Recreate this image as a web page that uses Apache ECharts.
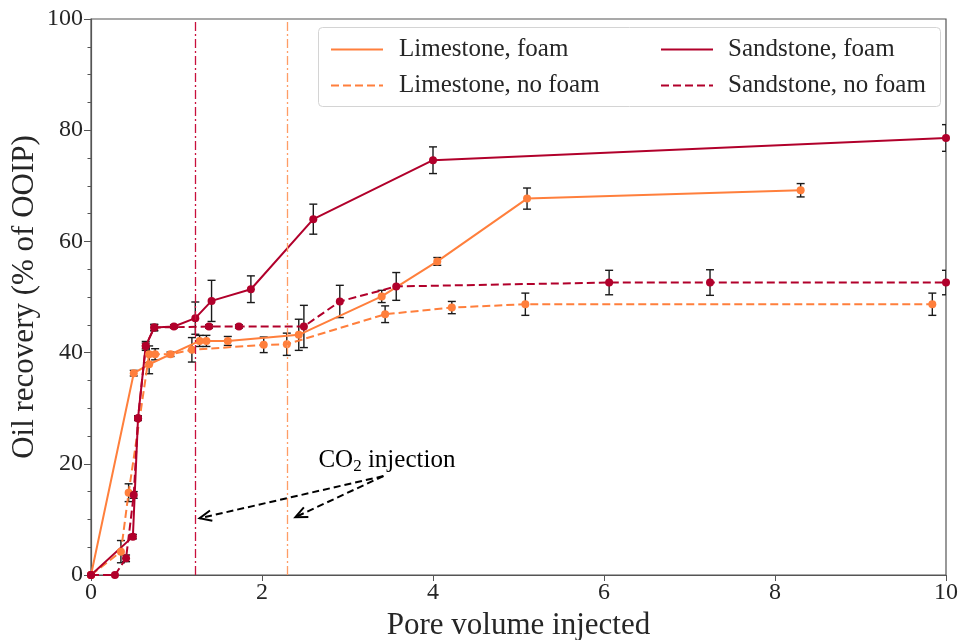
<!DOCTYPE html>
<html>
<head>
<meta charset="utf-8">
<script src="https://cdn.jsdelivr.net/npm/echarts@6/dist/echarts.min.js"></script>
<style>
  html, body { margin: 0; padding: 0; background: #fff; }
  #chart { width: 962px; height: 640px; }
</style>
</head>
<body>
<div id="chart"></div>
<script>
// Each point: [pore volume injected, oil recovery (% of OOIP), error half-width]
const limestoneFoam = [
  [0, 0, 0], [0.5, 36.3, 0.5], [0.68, 37.9, 1.7], [1.27, 42.1, 1.0], [1.35, 42.1, 1.0],
  [1.6, 42.1, 0.8], [2.43, 43.2, 2.8], [3.4, 50.1, 1.1], [4.05, 56.4, 0.7],
  [5.1, 67.7, 1.9], [8.3, 69.2, 1.2]
];
const limestoneNoFoam = [
  [0, 0, 0], [0.35, 4.2, 2.0], [0.44, 14.8, 1.6], [0.68, 39.7, 1.5], [0.75, 39.7, 1.0],
  [0.93, 39.7, 0.4], [1.18, 40.5, 2.2], [2.02, 41.4, 1.4], [2.29, 41.5, 2.0],
  [3.44, 46.9, 1.5], [4.22, 48.1, 1.1], [5.08, 48.7, 2.0], [9.84, 48.7, 2.0]
];
const sandstoneFoam = [
  [0, 0, 0], [0.49, 6.9, 0.4], [0.55, 28.2, 0.4], [0.64, 41.2, 0.8], [0.74, 44.5, 0.6],
  [0.97, 44.7, 0.3], [1.22, 46.2, 2.9], [1.41, 49.3, 3.7], [1.87, 51.4, 2.4],
  [2.6, 64.0, 2.7], [4.0, 74.6, 2.4], [10, 78.6, 2.4]
];
const sandstoneNoFoam = [
  [0, 0, 0], [0.28, 0, 0], [0.41, 3.0, 0.6], [0.5, 14.4, 0.6], [0.55, 28.2, 0.4],
  [0.64, 41.2, 0.5], [0.74, 44.5, 0.5], [1.38, 44.7, 0.3], [1.73, 44.7, 0.3],
  [2.49, 44.7, 3.8], [2.91, 49.2, 2.9], [3.57, 51.9, 2.5], [6.06, 52.6, 2.2],
  [7.24, 52.6, 2.3], [10, 52.6, 2.2]
];
// CO2 injection start (pore volumes) for sandstone and limestone
const co2Start = { sandstone: 1.22, limestone: 2.3 };
// Annotation arrows: [tailX, tailY, headX, headY]
const co2Arrows = [[3.42, 17.8, 1.27, 10.2], [3.42, 17.8, 2.39, 10.4]];
const co2LabelPos = [2.66, 20.6];
const xTicks = { min: 0, max: 10, interval: 2 };
const yTicks = { min: 0, max: 100, interval: 20 };

const ORANGE = '#ff7f3c';
const RED = '#b1002b';
const FONT = 'Liberation Serif';
const TEXT = '#262626';

const chart = echarts.init(document.getElementById('chart'), null, { renderer: 'canvas' });

function lineSeries(name, data, color, dashed) {
  return {
    name, type: 'line', data: data.map(d => [d[0], d[1]]),
    symbol: 'circle', symbolSize: 8, showAllSymbol: true,
    itemStyle: { color },
    lineStyle: { color, width: 2, type: dashed ? [8, 4] : 'solid' },
    z: 3, animation: false
  };
}

function errorSeries(data) {
  return {
    type: 'custom', data, clip: true, silent: true, z: 2, animation: false,
    encode: { x: 0, y: 1 },
    renderItem(params, api) {
      const x = api.value(0), y = api.value(1), e = api.value(2);
      if (!e) return null;
      const top = api.coord([x, y + e]);
      const bot = api.coord([x, y - e]);
      const cap = 4;
      const st = { stroke: '#1a1a1a', lineWidth: 1.4 };
      return {
        type: 'group',
        children: [
          { type: 'line', shape: { x1: top[0], y1: top[1], x2: bot[0], y2: bot[1] }, style: st },
          { type: 'line', shape: { x1: top[0] - cap, y1: top[1], x2: top[0] + cap, y2: top[1] }, style: st },
          { type: 'line', shape: { x1: bot[0] - cap, y1: bot[1], x2: bot[0] + cap, y2: bot[1] }, style: st }
        ]
      };
    }
  };
}

const legendCommon = {
  orient: 'vertical', top: 32, itemGap: 11, itemWidth: 52, itemHeight: 14,
  itemStyle: { opacity: 0 }, selectedMode: false
};

const option = {
  backgroundColor: '#fff',
  animation: false,
  grid: {
    left: 91, right: 16, top: 19, bottom: 65, show: true,
    borderColor: '#555', borderWidth: 1.2, outerBoundsMode: 'none', containLabel: false
  },
  xAxis: {
    type: 'value', min: xTicks.min, max: xTicks.max, interval: xTicks.interval,
    name: 'Pore volume injected', nameLocation: 'middle', nameGap: 35, nameMoveOverlap: false,
    nameTextStyle: { fontFamily: FONT, fontSize: 31, color: TEXT },
    axisLine: { show: true, lineStyle: { color: '#555', width: 1.2 } },
    axisTick: { show: true, inside: false, length: 6, lineStyle: { color: '#555' } },
    axisLabel: { fontFamily: FONT, fontSize: 24, color: TEXT, margin: 6 },
    splitLine: { show: false }
  },
  yAxis: {
    type: 'value', min: yTicks.min, max: yTicks.max, interval: yTicks.interval,
    name: 'Oil recovery (% of OOIP)', nameLocation: 'middle', nameGap: 51, nameMoveOverlap: false,
    nameTextStyle: { fontFamily: FONT, fontSize: 31, color: TEXT },
    axisLine: { show: true, lineStyle: { color: '#555', width: 1.2 } },
    axisTick: { show: true, inside: false, length: 7, lineStyle: { color: '#555' } },
    minorTick: { show: true, splitNumber: 4, length: 3.5, lineStyle: { color: '#555' } },
    axisLabel: { fontFamily: FONT, fontSize: 24, color: TEXT, margin: 8 },
    splitLine: { show: false }
  },
  legend: [
    Object.assign({
      left: 325, data: ['Limestone, foam', 'Limestone, no foam'],
      textStyle: { fontFamily: FONT, fontSize: 25, color: TEXT, padding: [0, 0, 0, 11] }
    }, legendCommon),
    Object.assign({
      left: 655, data: ['Sandstone, foam', 'Sandstone, no foam'],
      textStyle: { fontFamily: FONT, fontSize: 25, color: TEXT, padding: [0, 0, 0, 10] }
    }, legendCommon)
  ],
  graphic: [{
    type: 'rect', left: 318, top: 27, z: 0,
    shape: { width: 622, height: 79, r: 4 },
    style: { fill: 'rgba(255,255,255,0.85)', stroke: '#d4d4d4', lineWidth: 1 }
  }],
  series: [
    errorSeries(limestoneFoam),
    errorSeries(limestoneNoFoam),
    errorSeries(sandstoneFoam),
    errorSeries(sandstoneNoFoam),
    lineSeries('Limestone, foam', limestoneFoam, ORANGE, false),
    lineSeries('Limestone, no foam', limestoneNoFoam, ORANGE, true),
    lineSeries('Sandstone, foam', sandstoneFoam, RED, false),
    lineSeries('Sandstone, no foam', sandstoneNoFoam, RED, true),
    {
      // CO2 injection start markers
      type: 'line', data: [], silent: true, z: 1,
      markLine: {
        symbol: 'none', silent: true, label: { show: false }, animation: false,
        data: [
          { xAxis: co2Start.sandstone, lineStyle: { color: '#c8103c', width: 1.3, type: [9, 3, 2, 3] } },
          { xAxis: co2Start.limestone, lineStyle: { color: '#ff9d66', width: 1.3, type: [9, 3, 2, 3] } }
        ]
      }
    },
    {
      // annotation arrows
      type: 'custom', data: co2Arrows, silent: true, z: 4, clip: false,
      encode: { x: 0, y: 1 },
      renderItem(params, api) {
        const a = api.coord([api.value(0), api.value(1)]);
        const b = api.coord([api.value(2), api.value(3)]);
        const ang = Math.atan2(a[1] - b[1], a[0] - b[0]);
        const L = 13, spread = 0.42;
        const h1 = [b[0] + L * Math.cos(ang + spread), b[1] + L * Math.sin(ang + spread)];
        const h2 = [b[0] + L * Math.cos(ang - spread), b[1] + L * Math.sin(ang - spread)];
        return {
          type: 'group',
          children: [
            { type: 'line', shape: { x1: a[0], y1: a[1], x2: b[0], y2: b[1] },
              style: { stroke: '#000', lineWidth: 2, lineDash: [7, 4] } },
            { type: 'polyline', shape: { points: [h1, b, h2] },
              style: { stroke: '#000', lineWidth: 2, fill: null } }
          ]
        };
      }
    },
    {
      // annotation label
      type: 'custom', data: [co2LabelPos], silent: true, z: 4, clip: false,
      encode: { x: 0, y: 1 },
      renderItem(params, api) {
        const p = api.coord([api.value(0), api.value(1)]);
        return {
          type: 'text', x: p[0], y: p[1],
          style: {
            text: '{a|CO}{s|2}{a| injection}',
            verticalAlign: 'middle', align: 'left',
            rich: {
              a: { fontFamily: FONT, fontSize: 25, color: TEXT, lineHeight: 30, verticalAlign: 'middle' },
              s: { fontFamily: FONT, fontSize: 17, color: TEXT, lineHeight: 30, verticalAlign: 'bottom', padding: [10, 0, 0, 0] }
            }
          }
        };
      }
    }
  ]
};

chart.setOption(option);
</script>
</body>
</html>
